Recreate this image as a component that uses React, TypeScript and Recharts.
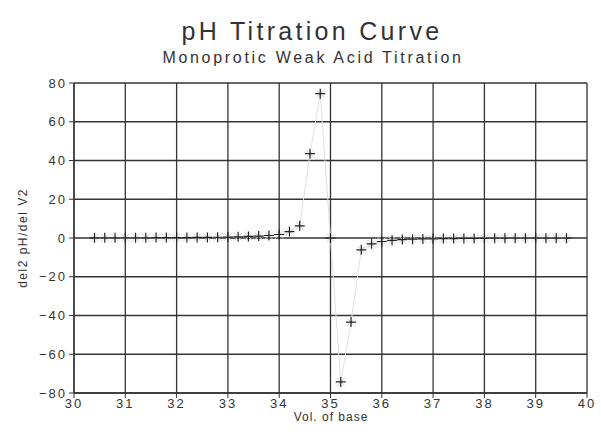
import { LineChart, Line, XAxis, YAxis, CartesianGrid } from "recharts";

// volume of base added (mL)
const volumes = [
  30.4, 30.6, 30.8, 31.0, 31.2, 31.4, 31.6, 31.8, 32.0, 32.2, 32.4, 32.6, 32.8,
  33.0, 33.2, 33.4, 33.6, 33.8, 34.0, 34.2, 34.4, 34.6, 34.8, 35.0, 35.2, 35.4,
  35.6, 35.8, 36.0, 36.2, 36.4, 36.6, 36.8, 37.0, 37.2, 37.4, 37.6, 37.8, 38.0,
  38.2, 38.4, 38.6, 38.8, 39.0, 39.2, 39.4, 39.6,
];

// second derivative d2pH/dV2
const secondDeriv = [
  0.1, 0.1, 0.1, 0.1, 0.1, 0.1, 0.2, 0.2, 0.2, 0.2, 0.3, 0.3, 0.4,
  0.5, 0.6, 0.8, 1.0, 1.3, 1.8, 3.3, 6.3, 43.5, 74.5, 0, -74.3, -43.4,
  -6.1, -3.0, -1.8, -1.2, -0.8, -0.6, -0.5, -0.4, -0.3, -0.3, -0.2, -0.2, -0.2,
  -0.1, -0.1, -0.1, -0.1, -0.1, -0.1, -0.1, -0.1,
];

const xTicks = [30, 31, 32, 33, 34, 35, 36, 37, 38, 39, 40];
const yTicks = [-80, -60, -40, -20, 0, 20, 40, 60, 80];

const data = volumes.map((v, i) => ({ vol: v, d2: secondDeriv[i] }));

const FONT = "'Liberation Sans', Arial, sans-serif";

function PlusDot(props: any) {
  const { cx, cy } = props;
  if (cx == null || cy == null) return null;
  return (
    <g>
      <path
        d={`M${cx - 4},${cy - 4}L${cx + 4},${cy + 4}M${cx - 4},${cy + 4}L${cx + 4},${cy - 4}`}
        stroke="#d4d4d4"
        strokeWidth={1}
      />
      <path
        d={`M${cx - 5},${cy}L${cx + 5},${cy}M${cx},${cy - 5}L${cx},${cy + 5}`}
        stroke="#222"
        strokeWidth={1.2}
      />
    </g>
  );
}

const tickStyle = {
  fontSize: 13,
  fill: "#333",
  fontFamily: FONT,
  letterSpacing: 2,
};

const fmt = (v: number) => String(v).replace("-", "\u2212");

export default function App() {
  return (
    <div style={{ position: "absolute", left: 0, top: 0, width: 601, height: 437, background: "#fff" }}>
      <LineChart
        width={601}
        height={437}
        data={data}
        margin={{ top: 83, right: 14, bottom: 14, left: 34 }}
      >
        <CartesianGrid stroke="#333" strokeWidth={1.3} />
        <XAxis
          dataKey="vol"
          type="number"
          domain={[30, 40]}
          ticks={xTicks}
          height={30}
          tick={tickStyle}
          tickSize={5}
          tickMargin={1}
          axisLine={{ stroke: "#333", strokeWidth: 1.3 }}
          tickLine={{ stroke: "#333" }}
          interval={0}
        />
        <YAxis
          type="number"
          domain={[-80, 80]}
          ticks={yTicks}
          width={40}
          tick={tickStyle}
          tickFormatter={fmt}
          tickSize={5}
          tickMargin={2}
          axisLine={{ stroke: "#333", strokeWidth: 1.3 }}
          tickLine={{ stroke: "#333" }}
          interval={0}
        />
        <Line
          dataKey="d2"
          stroke="#e0e0e0"
          strokeWidth={1}
          dot={<PlusDot />}
          isAnimationActive={false}
        />
      </LineChart>
      <svg
        width={601}
        height={437}
        style={{ position: "absolute", left: 0, top: 0, pointerEvents: "none" }}
      >
        <text x={312} y={40} textAnchor="middle" fontFamily={FONT} fontSize={25} fill="#333" letterSpacing={3.3}>
          pH Titration Curve
        </text>
        <text x={313} y={63} textAnchor="middle" fontFamily={FONT} fontSize={16} fill="#333" letterSpacing={2.7}>
          Monoprotic Weak Acid Titration
        </text>
        <text x={331} y={421} textAnchor="middle" fontFamily={FONT} fontSize={12} fill="#333" letterSpacing={1}>
          Vol. of base
        </text>
        <text
          x={27}
          y={238}
          textAnchor="middle"
          fontFamily={FONT}
          fontSize={12}
          fill="#333"
          letterSpacing={1.5}
          transform="rotate(-90 27 238)"
        >
          del2 pH/del V2
        </text>
      </svg>
    </div>
  );
}
